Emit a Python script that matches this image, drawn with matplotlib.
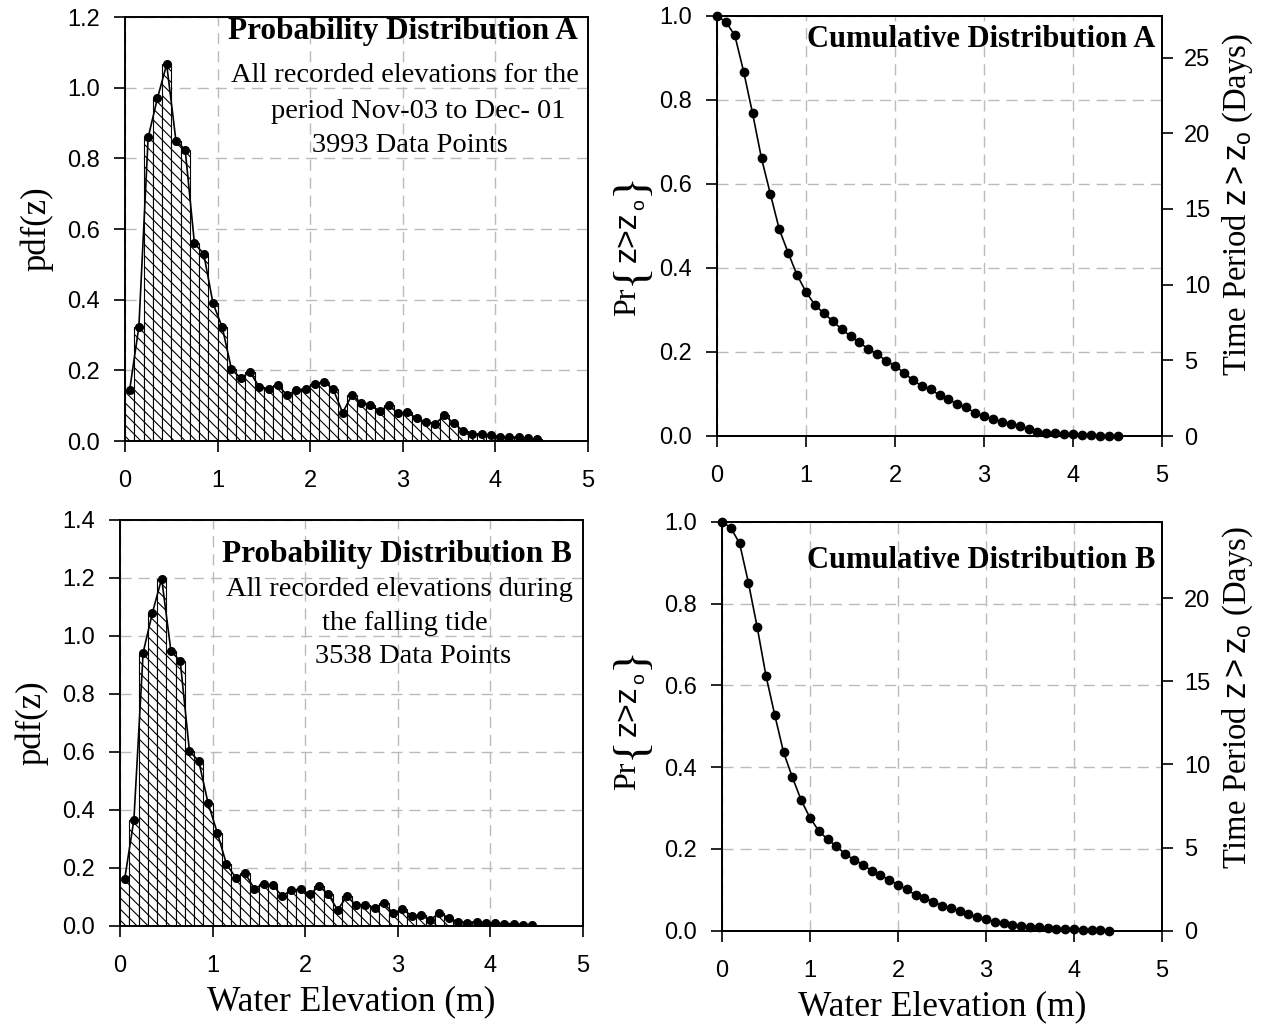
import numpy as np
import matplotlib
matplotlib.use('Agg')
import matplotlib.pyplot as plt

plt.rcParams['font.family'] = 'Liberation Sans'
plt.rcParams['mathtext.fontset'] = 'custom'
plt.rcParams['mathtext.rm'] = 'Liberation Serif'
plt.rcParams['mathtext.it'] = 'Liberation Serif:italic'
plt.rcParams['mathtext.sf'] = 'Liberation Sans'
plt.rcParams['hatch.linewidth'] = 0.8

# pdf values at bin centres (bin width 0.1 m)
pdf_x = np.round(np.arange(0.05, 4.5, 0.1), 2)
pdf_a = [0.144, 0.324, 0.859, 0.97, 1.066, 0.85, 0.824, 0.559, 0.53, 0.39,
         0.322, 0.203, 0.178, 0.195, 0.153, 0.148, 0.158, 0.13, 0.144, 0.148,
         0.162, 0.167, 0.146, 0.08, 0.13, 0.108, 0.101, 0.085, 0.101, 0.078,
         0.081, 0.064, 0.054, 0.048, 0.073, 0.05, 0.029, 0.02, 0.02, 0.017,
         0.012, 0.012, 0.01, 0.008, 0.005]
pdf_b = [0.161, 0.366, 0.943, 1.08, 1.198, 0.948, 0.914, 0.603, 0.569, 0.425,
         0.322, 0.213, 0.167, 0.182, 0.129, 0.144, 0.141, 0.103, 0.124, 0.127,
         0.109, 0.138, 0.109, 0.055, 0.103, 0.071, 0.073, 0.063, 0.078, 0.044,
         0.058, 0.035, 0.038, 0.02, 0.046, 0.027, 0.015, 0.012, 0.015, 0.012,
         0.01, 0.008, 0.008, 0.005, 0.005]

# exceedance probability
cdf_xa = np.round(np.arange(0, 4.55, 0.1), 2)
cdf_a = [1.0, 0.986, 0.954, 0.867, 0.768, 0.661, 0.576, 0.492, 0.436, 0.383,
         0.343, 0.312, 0.292, 0.274, 0.254, 0.238, 0.223, 0.207, 0.195, 0.179,
         0.167, 0.151, 0.133, 0.119, 0.111, 0.0975, 0.087, 0.076, 0.068, 0.055,
         0.048, 0.040, 0.034, 0.029, 0.024, 0.016, 0.010, 0.008, 0.006, 0.005,
         0.004, 0.002, 0.0015, 0.001, 0.0005, 0.0]
cdf_xb = np.round(np.arange(0, 4.45, 0.1), 2)
cdf_b = [1.0, 0.985, 0.947, 0.851, 0.742, 0.623, 0.527, 0.436, 0.375, 0.319,
         0.276, 0.244, 0.223, 0.207, 0.187, 0.174, 0.161, 0.147, 0.136, 0.124,
         0.112, 0.101, 0.087, 0.079, 0.071, 0.061, 0.055, 0.048, 0.041, 0.033,
         0.028, 0.022, 0.018, 0.015, 0.012, 0.010, 0.008, 0.0065, 0.005, 0.004,
         0.003, 0.0025, 0.0016, 0.0008, 0.0]
days_a = 27.75
days_b = 24.6

W, H = 1266, 1030
fig = plt.figure(figsize=(W / 100, H / 100), dpi=100)

def box(l, b, r, t):
    return [l / W, (H - b) / H, (r - l) / W, (b - t) / H]

ax1 = fig.add_axes(box(125, 441, 588, 17))
ax2 = fig.add_axes(box(717, 436, 1162, 16))
ax3 = fig.add_axes(box(120, 926, 583, 520))
ax4 = fig.add_axes(box(722, 930.7, 1162, 521.7))

serif = 'Liberation Serif'

def style(ax, ymax, ystep):
    ax.set_xlim(0, 5)
    ax.set_ylim(0, ymax)
    ax.set_xticks(range(6))
    ax.set_yticks(np.arange(0, ymax + 1e-9, ystep))
    ax.yaxis.set_major_formatter(matplotlib.ticker.FormatStrFormatter('%.1f'))
    ax.tick_params(direction='out', length=8, width=1.2, labelsize=17)
    ax.tick_params(axis='x', pad=13)
    ax.tick_params(axis='y', pad=10)
    ax.grid(True, linestyle=(0, (8, 5)), color='#bbbbbb', linewidth=1)
    ax.set_axisbelow(True)
    for s in ax.spines.values():
        s.set_linewidth(1.4)

def pdf_panel(ax, y, ymax):
    style(ax, ymax, 0.2)
    ax.bar(pdf_x, y, width=0.1, facecolor='white', edgecolor='black',
           linewidth=0.8, hatch='\\\\\\', zorder=2)
    ax.plot(pdf_x, y, '-o', color='black', markersize=5.5, linewidth=1.2, zorder=3)
    ax.set_ylabel('pdf(z)', fontsize=25, family=serif, labelpad=10)

def pr_label(ybase):
    # rotated Pr{z>z_o} built from pieces, ybase = pixel row of the bottom of "Pr"
    def put(s, x, dy, size, fam):
        fig.text(x / W, 1 - (ybase - dy) / H, s, rotation=90, ha='center',
                 va='center', fontsize=size, family=fam)
    put('Pr', 628, 16, 23, serif)
    put('{', 631, 44, 34, serif)
    put('z>z', 628, 81, 23, 'Liberation Sans')
    put('o', 640, 113, 14, 'Liberation Sans')
    put('}', 631, 134, 34, serif)

def cdf_panel(ax, x, y, days, ybase, lab_x, lab_y):
    style(ax, 1.0, 0.2)
    ax.plot(x, y, '-o', color='black', markersize=6, linewidth=1.2,
            clip_on=False, zorder=3)
    pr_label(ybase)
    tw = ax.twinx()
    tw.set_ylim(0, days)
    tw.set_yticks(np.arange(0, days, 5))
    tw.tick_params(direction='out', length=8, width=1.2, labelsize=17, pad=8)
    tw.set_ylabel(r'Time Period $\mathsf{z>z_o}$ (Days)', fontsize=23.5,
                  family=serif)
    tw.yaxis.set_label_coords(lab_x, lab_y)
    for s in tw.spines.values():
        s.set_linewidth(1.4)

pdf_panel(ax1, pdf_a, 1.2)
pdf_panel(ax3, pdf_b, 1.4)
cdf_panel(ax2, cdf_xa, cdf_a, days_a, 318, 1.131, 0.552)
cdf_panel(ax4, cdf_xb, cdf_b, days_b, 792, 1.132, 0.57)

for ax in (ax3, ax4):
    ax.set_xlabel('Water Elevation (m)', fontsize=25.5, family=serif, labelpad=6)

hkw = dict(family=serif, fontsize=22.5, weight='bold', ha='right', va='center')
tkw = dict(family=serif, fontsize=20.5, ha='center', va='center')
ax1.text(0.978, 0.965, 'Probability Distribution A', transform=ax1.transAxes, **hkw)
ax1.text(0.604, 0.863, 'All recorded elevations for the', transform=ax1.transAxes, **tkw)
ax1.text(0.633, 0.776, 'period Nov-03 to Dec- 01', transform=ax1.transAxes, **tkw)
ax1.text(0.615, 0.696, '3993 Data Points', transform=ax1.transAxes, **tkw)

ax3.text(0.976, 0.914, 'Probability Distribution B', transform=ax3.transAxes, **hkw)
ax3.text(0.603, 0.828, 'All recorded elevations during', transform=ax3.transAxes, **tkw)
ax3.text(0.616, 0.746, 'the falling tide', transform=ax3.transAxes, **tkw)
ax3.text(0.632, 0.665, '3538 Data Points', transform=ax3.transAxes, **tkw)

ckw = dict(hkw, fontsize=22)
ax2.text(0.984, 0.943, 'Cumulative Distribution A', transform=ax2.transAxes, **ckw)
ax4.text(0.984, 0.905, 'Cumulative Distribution B', transform=ax4.transAxes, **ckw)

fig.savefig('out.png', dpi=100)
